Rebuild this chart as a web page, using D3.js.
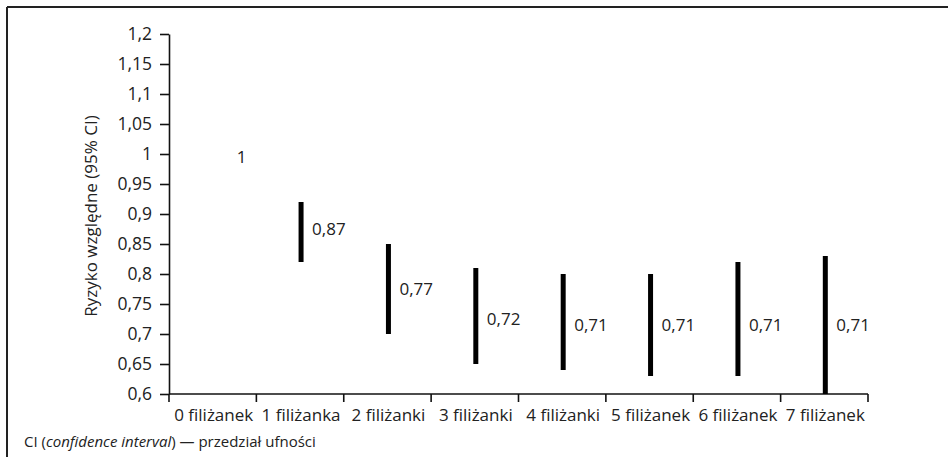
<!DOCTYPE html>
<html>
<head>
<meta charset="utf-8">
<script src="https://cdn.jsdelivr.net/npm/d3@7"></script>
<style>
  html, body { margin: 0; padding: 0; background: #fff; }
  svg { display: block; font-family: "Open Sans", "Noto Sans", sans-serif; }
</style>
</head>
<body>
<svg id="chart" width="948" height="457"></svg>
<script>
const categories = ["0 filiżanek", "1 filiżanka", "2 filiżanki", "3 filiżanki", "4 filiżanki", "5 filiżanek", "6 filiżanek", "7 filiżanek"];
const relativeRisk = [1, 0.87, 0.77, 0.72, 0.71, 0.71, 0.71, 0.71];
const ciLow  = [null, 0.82, 0.70, 0.65, 0.64, 0.63, 0.63, 0.60];
const ciHigh = [null, 0.92, 0.85, 0.81, 0.80, 0.80, 0.82, 0.83];
const valueLabels = ["1", "0,87", "0,77", "0,72", "0,71", "0,71", "0,71", "0,71"];
const yTicks = [0.6, 0.65, 0.7, 0.75, 0.8, 0.85, 0.9, 0.95, 1, 1.05, 1.1, 1.15, 1.2];
const yTitle = "Ryzyko względne (95% CI)";

const svg = d3.select("#chart");
const ink = "#111";
const txt = "#222";
const W = 380; // font weight

// frame (top and left edges visible)
svg.append("line").attr("x1", 7).attr("x2", 948).attr("y1", 7).attr("y2", 7)
  .attr("stroke", "#222").attr("stroke-width", 2);
svg.append("line").attr("x1", 7).attr("x2", 7).attr("y1", 7).attr("y2", 457)
  .attr("stroke", "#222").attr("stroke-width", 2);

const x = d3.scaleBand().domain(categories).range([169, 868]).padding(0);
const y = d3.scaleLinear().domain([0.6, 1.2]).range([394, 34]);

const fmt = d => String(+d.toFixed(2)).replace(".", ",");

// Y axis
const yAxis = svg.append("g").attr("transform", "translate(169,0)")
  .call(d3.axisLeft(y).tickValues(yTicks).tickFormat(fmt).tickSize(9).tickSizeOuter(0).tickPadding(8));
yAxis.select(".domain").attr("stroke", ink).attr("stroke-width", 1.6);
yAxis.selectAll(".tick line").attr("stroke", ink).attr("stroke-width", 1.6);
yAxis.selectAll(".tick text").attr("fill", txt).style("font-size", "17.5px")
  .style("font-family", "'Open Sans', sans-serif").style("font-weight", W);

// X axis
const xg = svg.append("g").attr("transform", "translate(0,394)");
xg.append("line").attr("x1", x.range()[0]).attr("x2", x.range()[1]).attr("y1", 0).attr("y2", 0)
  .attr("stroke", ink).attr("stroke-width", 1.6);
const boundaries = categories.map(c => x(c)).concat([x(categories[categories.length - 1]) + x.bandwidth()]);
xg.selectAll("line.tk").data(boundaries).join("line").attr("class", "tk")
  .attr("x1", d => d).attr("x2", d => d).attr("y1", 0).attr("y2", 8)
  .attr("stroke", ink).attr("stroke-width", 1.6);
xg.selectAll("text").data(categories).join("text")
  .attr("x", d => x(d) + x.bandwidth() / 2 + 1)
  .attr("y", 22)
  .attr("text-anchor", "middle")
  .attr("dominant-baseline", "middle")
  .attr("fill", txt)
  .style("font-size", "17px").style("font-weight", W)
  .text(d => d);

// CI bars
const rows = categories.map((c, i) => ({ c, rr: relativeRisk[i], lo: ciLow[i], hi: ciHigh[i], label: valueLabels[i] }));
svg.append("g").selectAll("line").data(rows.filter(d => d.lo != null)).join("line")
  .attr("x1", d => x(d.c) + x.bandwidth() / 2 + 1)
  .attr("x2", d => x(d.c) + x.bandwidth() / 2 + 1)
  .attr("y1", d => y(d.hi))
  .attr("y2", d => y(d.lo))
  .attr("stroke", "#000")
  .attr("stroke-width", 5);

// value labels
svg.append("g").selectAll("text").data(rows).join("text")
  .attr("x", d => x(d.c) + x.bandwidth() / 2 + (d.lo == null ? 24 : 12))
  .attr("y", d => y(d.rr) + (d.lo == null ? 4 : -2))
  .attr("dominant-baseline", "middle")
  .attr("fill", txt)
  .style("font-size", "17px").style("font-weight", W)
  .text(d => d.label);

// Y title
svg.append("text")
  .attr("transform", "translate(92,216) rotate(-90)")
  .attr("text-anchor", "middle")
  .attr("dominant-baseline", "middle")
  .attr("fill", txt)
  .style("font-size", "17px").style("font-weight", W)
  .text(yTitle);

// footnote
const foot = svg.append("text").attr("x", 24).attr("y", 443)
  .attr("dominant-baseline", "middle").attr("fill", txt)
  .style("font-size", "15px").style("font-weight", W);
foot.append("tspan").text("CI (");
foot.append("tspan").style("font-style", "italic").text("confidence interval");
foot.append("tspan").text(") — przedział ufności");
</script>
</body>
</html>
